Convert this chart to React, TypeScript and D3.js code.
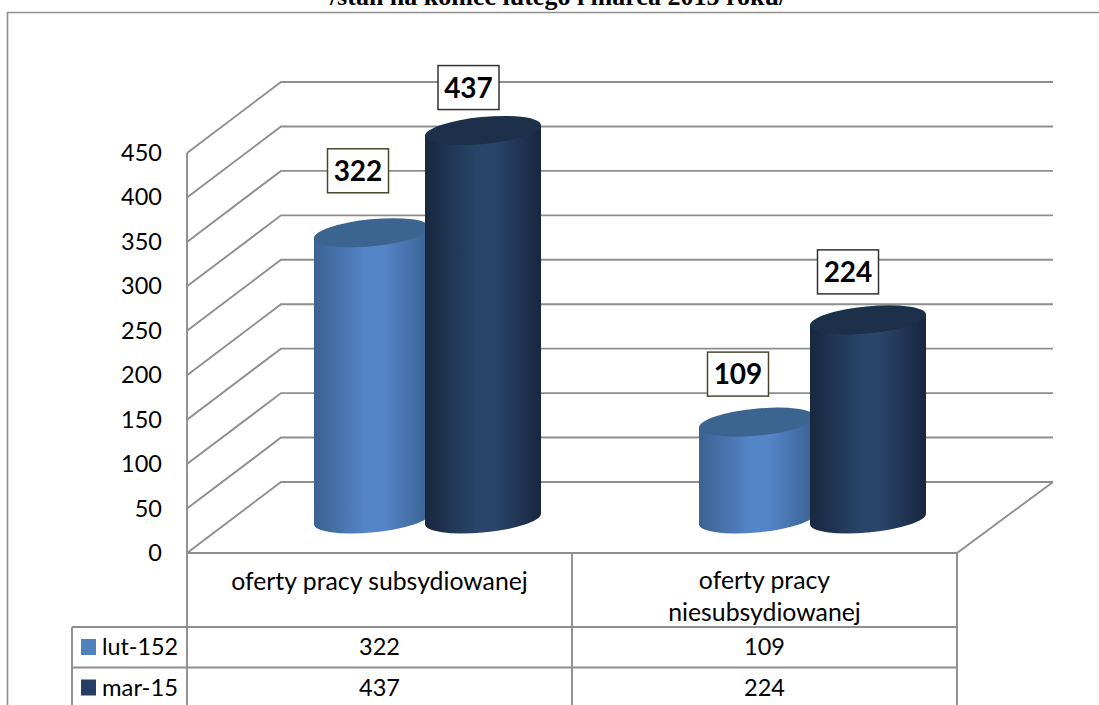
import { useEffect, useRef } from 'react'
import * as d3 from 'd3'

const categories = ['oferty pracy subsydiowanej', 'oferty pracy niesubsydiowanej']
const seriesNames = ['lut-152', 'mar-15']
const lutValues = [322, 109]
const marValues = [437, 224]
const yTicks = [0, 50, 100, 150, 200, 250, 300, 350, 400, 450]
const title = '/stan na koniec lutego i marca 2015 roku/'

const seriesValues = [lutValues, marValues]
const seriesColors = ['#4f81bd', '#243f63']
const lidColors = ['#3c6491', '#1c3049']
const edgeColors = ['#3a6391', '#17273e']
const midColors = ['#5585c9', '#2a4569']
const boxStrokes = ['#4a4630', '#333333']

// hand-moved data labels, offset from the lid centre
const labelOffsets = [
  [[-14, -62], [-14.5, -43]],
  [[-19, -48], [-20, -48]]
]

const GRID = '#8e8e8e'
const FONT = 'Lato, sans-serif'

export default function App() {
  const svgRef = useRef<SVGSVGElement>(null)

  useEffect(() => {
    if (!svgRef.current) return
    const svg = d3.select(svgRef.current)
    svg.selectAll('*').remove()

    const frontX = 187
    const frontRight = 957
    const floorY = 553
    const depth = { x: 94, y: -71 }
    const tableLeft = 72
    const rowY = [627, 667.5]
    const bottom = 705

    const y = d3.scaleLinear().domain([0, 450]).range([floorY, 153])
    const xCat = d3.scaleBand<string>().domain(categories).range([frontX, frontRight])
    const xSeries = d3.scaleBand<string>().domain(seriesNames).range([129.5, 351.5])

    // gradients for the cylinders
    const defs = svg.append('defs')
    seriesNames.forEach((_, i) => {
      const g = defs.append('linearGradient').attr('id', `cyl${i}`)
      g.append('stop').attr('offset', '0%').attr('stop-color', edgeColors[i])
      g.append('stop').attr('offset', '45%').attr('stop-color', midColors[i])
      g.append('stop').attr('offset', '60%').attr('stop-color', midColors[i])
      g.append('stop').attr('offset', '100%').attr('stop-color', edgeColors[i])
    })

    // outer frame
    svg.append('path')
      .attr('d', `M7.5,${bottom}V12.5H1099`)
      .attr('fill', 'none').attr('stroke', GRID).attr('stroke-width', 1.6)

    // title, cut off by the top of the page
    svg.append('text')
      .attr('x', 558).attr('y', 5)
      .attr('text-anchor', 'middle')
      .attr('font-family', 'Liberation Serif, serif')
      .attr('font-weight', 700).attr('font-size', 26)
      .text(title)

    // walls and grid
    const grid = svg.append('g').attr('fill', 'none').attr('stroke', GRID).attr('stroke-width', 1.9)
    yTicks.forEach(t => {
      grid.append('path').attr('d',
        `M${frontX},${y(t)}L${frontX + depth.x},${y(t) + depth.y}H${frontRight + depth.x + 2}`)
    })
    grid.append('path').attr('d', `M${frontX},${floorY}V${y(450)}`)
    grid.append('path').attr('d',
      `M${frontX},${floorY}H${frontRight}L${frontRight + depth.x + 2},${floorY + depth.y}`)

    // y axis labels
    const axis = svg.append('g')
      .attr('transform', `translate(${frontX - 25},0)`)
      .call(d3.axisLeft(y).tickValues(yTicks).tickSize(0).tickPadding(0))
    axis.select('.domain').remove()
    axis.selectAll('text')
      .attr('font-family', FONT).attr('font-size', 23.5).attr('fill', '#000')

    // data table
    const table = svg.append('g').attr('fill', 'none').attr('stroke', GRID).attr('stroke-width', 1.9)
    ;[frontX, ...categories.map(c => (xCat(c) as number) + xCat.bandwidth())].forEach(x => {
      table.append('line').attr('x1', x).attr('x2', x).attr('y1', floorY).attr('y2', bottom)
    })
    table.append('line').attr('x1', tableLeft).attr('x2', tableLeft).attr('y1', rowY[0]).attr('y2', bottom)
    rowY.forEach(ry => {
      table.append('line').attr('x1', tableLeft).attr('x2', frontRight).attr('y1', ry).attr('y2', ry)
    })

    const tableText = (x: number, yy: number, s: string, size: number, anchor = 'middle') =>
      svg.append('text')
        .attr('x', x).attr('y', yy).attr('text-anchor', anchor)
        .attr('font-family', FONT).attr('font-size', size).attr('fill', '#000')
        .text(s)

    tableText((xCat(categories[0]) as number) + xCat.bandwidth() / 2, 590, categories[0], 24.8)
    tableText((xCat(categories[1]) as number) + xCat.bandwidth() / 2, 589, 'oferty pracy', 24.8)
    tableText((xCat(categories[1]) as number) + xCat.bandwidth() / 2, 621, 'niesubsydiowanej', 24.8)

    seriesNames.forEach((name, i) => {
      const cy = rowY[i] + 20
      svg.append('rect')
        .attr('x', 81).attr('y', cy - 8).attr('width', 15).attr('height', 16)
        .attr('fill', seriesColors[i])
      tableText(102, cy + 8, name, 24, 'start')
        .attr('textLength', 76).attr('lengthAdjust', 'spacingAndGlyphs')
      categories.forEach((c, j) => {
        tableText((xCat(c) as number) + xCat.bandwidth() / 2, cy + 8, String(seriesValues[i][j]), 23.5)
      })
    })

    // cylinders
    const halfW = xSeries.bandwidth() / 2 + 2.5
    const ry = 13.5
    const tilt = 5.5
    const rad = (tilt * Math.PI) / 180
    const rx = Math.sqrt(Math.max(halfW * halfW - ry * ry * Math.sin(rad) ** 2, 0)) / Math.cos(rad)
    const sideDy = ((rx * rx - ry * ry) * Math.sin(rad) * Math.cos(rad)) / halfW
    const baseY = y(0) - 34

    categories.forEach((c, j) => {
      seriesNames.forEach((s, i) => {
        const cx = (xCat(c) as number) + (xSeries(s) as number) + xSeries.bandwidth() / 2
        const topY = baseY - (y(0) - y(seriesValues[i][j]))
        const arc = `A${rx},${ry} ${-tilt} 0 0`
        svg.append('path')
          .attr('d', `M${cx - halfW},${topY + sideDy}V${baseY + sideDy}${arc} ${cx + halfW},${baseY - sideDy}V${topY - sideDy}Z`)
          .attr('fill', `url(#cyl${i})`)
        svg.append('ellipse')
          .attr('cx', cx).attr('cy', topY).attr('rx', rx).attr('ry', ry)
          .attr('transform', `rotate(${-tilt},${cx},${topY})`)
          .attr('fill', lidColors[i])
      })
    })

    // data labels
    categories.forEach((c, j) => {
      seriesNames.forEach((s, i) => {
        const cx = (xCat(c) as number) + (xSeries(s) as number) + xSeries.bandwidth() / 2
        const topY = baseY - (y(0) - y(seriesValues[i][j]))
        const [dx, dy] = labelOffsets[j][i]
        svg.append('rect')
          .attr('x', cx + dx - 30.5).attr('y', topY + dy - 22)
          .attr('width', 61).attr('height', 44)
          .attr('fill', '#fff').attr('stroke', boxStrokes[i]).attr('stroke-width', 1.5)
        svg.append('text')
          .attr('x', cx + dx).attr('y', topY + dy + 10)
          .attr('text-anchor', 'middle')
          .attr('font-family', FONT).attr('font-weight', 700).attr('font-size', 28)
          .text(seriesValues[i][j])
      })
    })
  }, [])

  return (
    <svg
      ref={svgRef}
      width={1099}
      height={705}
      style={{ position: 'absolute', left: 0, top: 0, background: '#fff' }}
    />
  )
}
